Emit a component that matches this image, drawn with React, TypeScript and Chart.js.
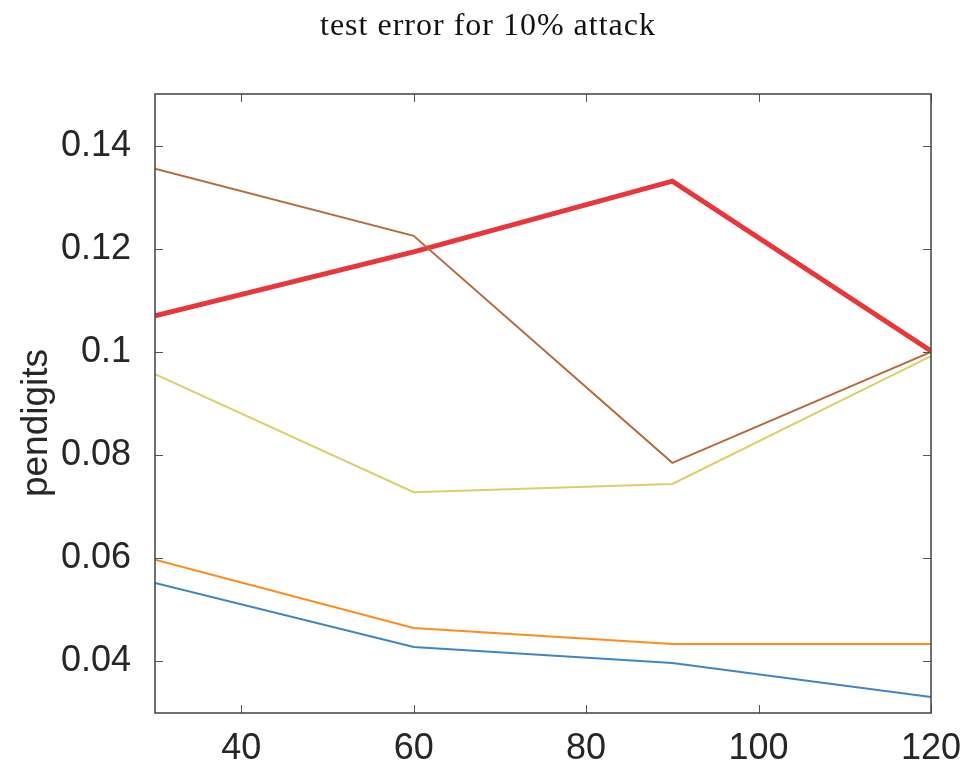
import React, { useEffect, useRef } from "react";
import { Chart, registerables } from "chart.js";

Chart.register(...registerables);

const xValues = [30, 60, 90, 120];
const xTicks = [40, 60, 80, 100, 120];
const yTicks = [0.04, 0.06, 0.08, 0.1, 0.12, 0.14];

const brownSeries = [0.1355, 0.1225, 0.0785, 0.1];
const yellowSeries = [0.0957, 0.0728, 0.0744, 0.0992];
const redSeries = [0.107, 0.1194, 0.1331, 0.1002];
const orangeSeries = [0.0597, 0.0465, 0.0434, 0.0434];
const blueSeries = [0.0552, 0.0428, 0.0397, 0.0331];

const titleText = "test error for 10% attack";
const yLabel = "pendigits";

const framePlugin = {
  id: "framePlugin",
  afterDraw(chart: any) {
    const { ctx, chartArea, scales } = chart;
    const { left, right, top, bottom } = chartArea;
    ctx.save();
    // inward ticks
    ctx.strokeStyle = "#555555";
    ctx.lineWidth = 1;
    const tl = 8;
    for (const v of xTicks) {
      const x = Math.round(scales.x.getPixelForValue(v)) + 0.5;
      ctx.beginPath();
      ctx.moveTo(x, bottom);
      ctx.lineTo(x, bottom - tl);
      ctx.moveTo(x, top);
      ctx.lineTo(x, top + tl);
      ctx.stroke();
    }
    for (const v of yTicks) {
      const y = Math.round(scales.y.getPixelForValue(v)) + 0.5;
      ctx.beginPath();
      ctx.moveTo(left, y);
      ctx.lineTo(left + tl, y);
      ctx.moveTo(right, y);
      ctx.lineTo(right - tl, y);
      ctx.stroke();
    }
    // box
    ctx.strokeStyle = "#404040";
    ctx.lineWidth = 1.5;
    ctx.strokeRect(left, top, right - left, bottom - top);
    // title
    ctx.fillStyle = "#111111";
    ctx.font = "32px 'Liberation Serif'";
    try {
      (ctx as any).letterSpacing = "1px";
    } catch (e) {}
    ctx.textAlign = "center";
    ctx.textBaseline = "alphabetic";
    ctx.fillText(titleText, 488, 35);
    try {
      (ctx as any).letterSpacing = "0px";
    } catch (e) {}
    // y label
    ctx.translate(37, 423);
    ctx.rotate(-Math.PI / 2);
    ctx.fillStyle = "#262626";
    ctx.font = "37px 'Liberation Sans'";
    ctx.textBaseline = "middle";
    ctx.fillText(yLabel, 0, 0);
    ctx.restore();
  },
};

export default function App() {
  const canvasRef = useRef<HTMLCanvasElement | null>(null);

  useEffect(() => {
    if (!canvasRef.current) return;
    const mk = (data: number[], color: string, width: number) => ({
      data: xValues.map((x, i) => ({ x, y: data[i] })),
      borderColor: color,
      backgroundColor: color,
      borderWidth: width,
      pointRadius: 0,
      fill: false,
      tension: 0,
    });
    const chart = new Chart(canvasRef.current, {
      type: "line",
      data: {
        datasets: [
          mk(brownSeries, "#b8693d", 2),
          mk(yellowSeries, "#dccf6a", 2),
          mk(redSeries, "#e8363a", 5),
          mk(orangeSeries, "#ff8c19", 2),
          mk(blueSeries, "#3d85c6", 2),
        ],
      },
      options: {
        animation: false,
        responsive: true,
        maintainAspectRatio: false,
        layout: { padding: { top: 94, right: 31, left: 0, bottom: 0 } },
        plugins: {
          legend: { display: false },
          title: { display: false },
          tooltip: { enabled: false },
        },
        scales: {
          x: {
            type: "linear",
            min: 30,
            max: 120,
            afterBuildTicks: (s: any) => {
              s.ticks = xTicks.map((v) => ({ value: v }));
            },
            afterFit: (s: any) => {
              s.height = 56;
              s.paddingLeft = 0;
              s.paddingRight = 0;
            },
            grid: { display: false, drawTicks: false },
            border: { display: false },
            ticks: {
              padding: 14,
              color: "#262626",
              font: { family: "'Liberation Sans'", size: 36 },
              maxRotation: 0,
              autoSkip: false,
              callback: (v: any) => String(v),
            },
          },
          y: {
            type: "linear",
            min: 0.03,
            max: 0.15,
            afterBuildTicks: (s: any) => {
              s.ticks = yTicks.map((v) => ({ value: v }));
            },
            afterFit: (s: any) => {
              s.width = 155;
              s.paddingTop = 0;
              s.paddingBottom = 0;
            },
            grid: { display: false, drawTicks: false },
            border: { display: false },
            ticks: {
              padding: 24,
              color: "#262626",
              font: { family: "'Liberation Sans'", size: 36 },
              autoSkip: false,
              callback: (v: any) => String(+Number(v).toFixed(2)),
            },
          },
        },
      },
      plugins: [framePlugin],
    });
    return () => chart.destroy();
  }, []);

  return (
    <div style={{ position: "absolute", left: 0, top: 0, width: 962, height: 769, background: "#ffffff" }}>
      <canvas ref={canvasRef} />
    </div>
  );
}
